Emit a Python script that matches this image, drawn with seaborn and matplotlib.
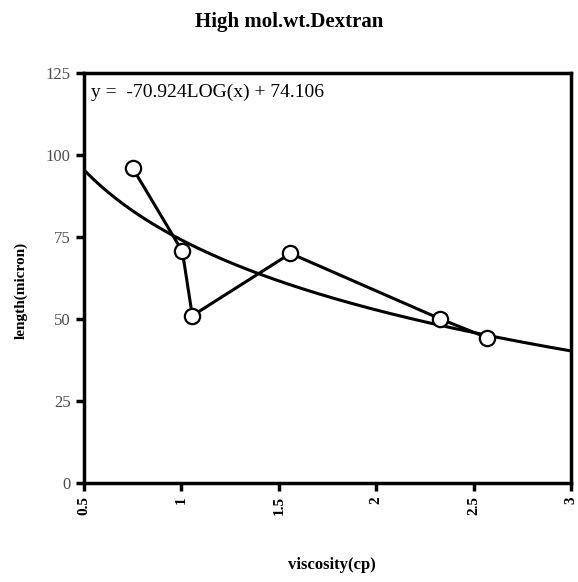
import matplotlib

matplotlib.use("Agg")
import matplotlib.pyplot as plt
import numpy as np
import pandas as pd
import seaborn as sns

viscosity = [0.75, 1.005, 1.056, 1.56, 2.33, 2.57]
length = [96.0, 70.6, 51.0, 70.0, 50.0, 44.3]

# trendline stated on the chart: y = a*log10(x) + b
fit_slope = -70.924
fit_intercept = 74.106
fit_label = "y =  -70.924LOG(x) + 74.106"

x_ticks = [0.5, 1.0, 1.5, 2.0, 2.5, 3.0]
x_tick_labels = ["0.5", "1", "1.5", "2", "2.5", "3"]
y_ticks = [0, 25, 50, 75, 100, 125]

sns.set_style("white")
plt.rcParams["font.family"] = ["Liberation Serif", "DejaVu Serif"]
plt.rcParams["text.color"] = "black"

fig = plt.figure(figsize=(5.78, 5.82), dpi=100)
ax = fig.add_axes([84 / 578, 1 - 483 / 582, 487 / 578, 410 / 582])

xs = np.linspace(0.5, 3.0, 200)
fit = pd.DataFrame({"x": xs, "y": fit_slope * np.log10(xs) + fit_intercept})
sns.lineplot(data=fit, x="x", y="y", ax=ax, color="black", linewidth=2.2)

pts = pd.DataFrame({"x": viscosity, "y": length})
sns.lineplot(
    data=pts, x="x", y="y", ax=ax, sort=False, color="black", linewidth=2.2,
    marker="o", markersize=11, markerfacecolor="white",
    markeredgecolor="black", markeredgewidth=1.6,
)

ax.set_xlim(0.5, 3.0)
ax.set_ylim(0, 125)
ax.set_xticks(x_ticks)
ax.set_xticklabels(x_tick_labels, rotation=90, fontweight="bold", fontsize=11, color="black")
ax.set_yticks(y_ticks)
ax.set_yticklabels([str(v) for v in y_ticks], fontsize=12, color="0.3")
ax.tick_params(axis="both", direction="out", length=6, width=2.5, color="black", left=True, bottom=True)
for side in ["left", "bottom", "top", "right"]:
    ax.spines[side].set_visible(True)
    ax.spines[side].set_color("black")
    ax.spines[side].set_linewidth(2.5)

ax.text(0.014, 0.975, fit_label, transform=ax.transAxes, ha="left", va="top",
        fontsize=14, color="black")
ax.set_xlabel("viscosity(cp)", fontweight="bold", fontsize=12, color="black")
ax.xaxis.set_label_coords((332 - 84) / 487, (483 - 557) / 410)
ax.set_ylabel("length(micron)", fontweight="bold", fontsize=11, color="black")
ax.yaxis.set_label_coords((28 - 84) / 487, (483 - 290) / 410)
fig.text(0.5, 1 - 22 / 582, "High mol.wt.Dextran", ha="center", va="center",
         fontweight="bold", fontsize=15, color="black")

fig.savefig("out.png", dpi=100)
